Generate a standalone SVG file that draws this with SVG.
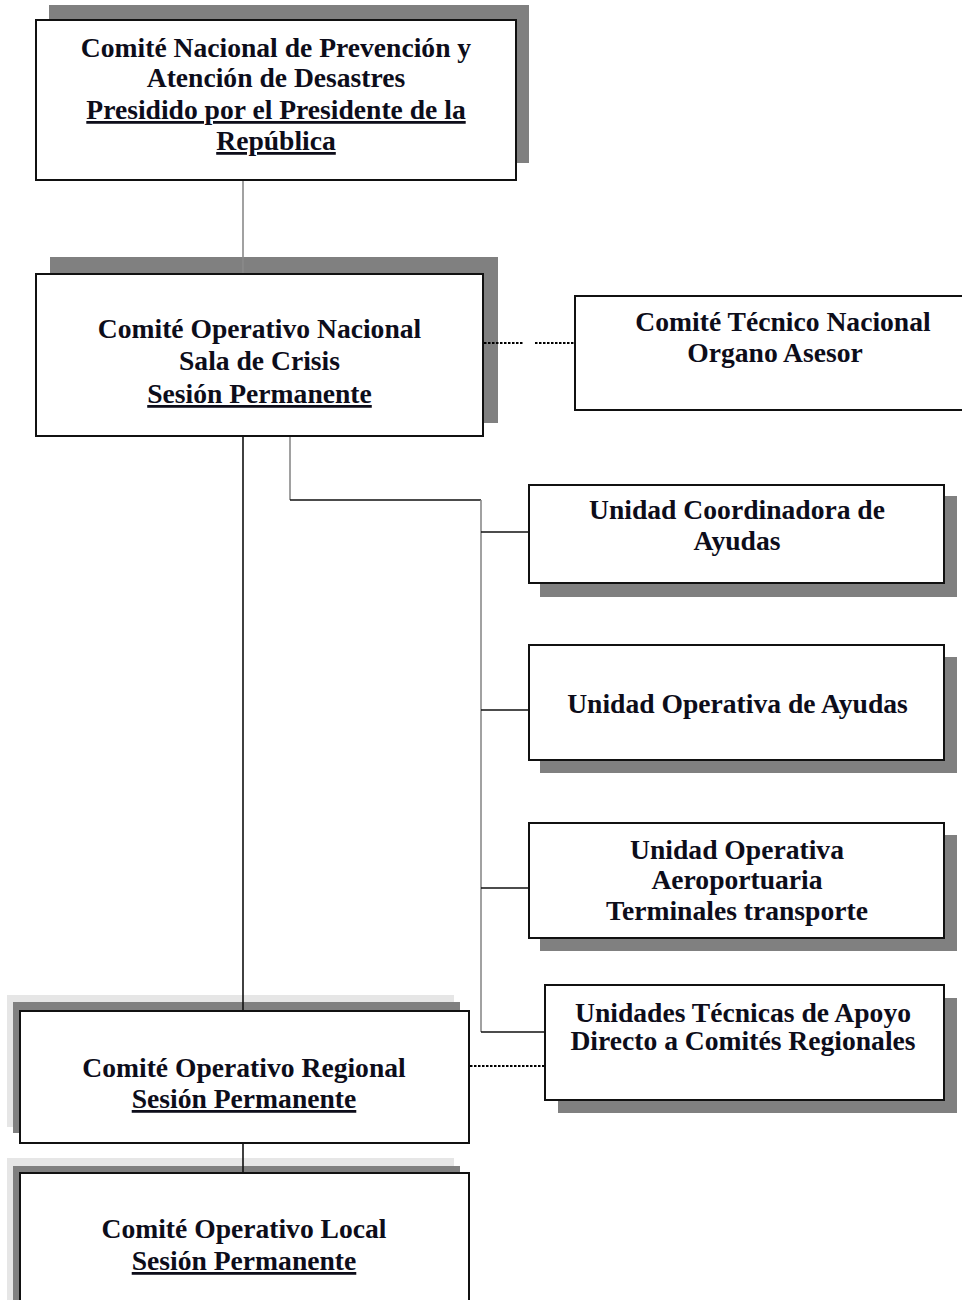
<svg xmlns="http://www.w3.org/2000/svg" width="962" height="1300" viewBox="0 0 962 1300">
<style>
.box{fill:#fff;stroke:#111;stroke-width:2}
.sh{fill:#808080}
.lsh{fill:#e6e6e6}
.t{font-family:"Liberation Serif","Times New Roman",serif;font-weight:bold;font-size:27.6px;fill:#0d0d1a;text-anchor:middle}
.u{text-decoration:underline}
.cn{fill:none;stroke:#111;stroke-width:1.6}
.cg{fill:none;stroke:#8a8a8a;stroke-width:1.6}
.dot{fill:none;stroke:#000;stroke-width:1.8;stroke-dasharray:2.5 1.5}
</style>
<rect width="962" height="1300" fill="#fff"/>
<g id="n1">
<rect class="sh" x="49" y="5" width="480" height="158"/>
<rect class="box" x="36" y="20" width="480" height="160"/>
<text class="t" x="276" y="57">Comité Nacional de Prevención y</text>
<text class="t" x="276" y="87">Atención de Desastres</text>
<text class="t u" x="276" y="119">Presidido por el Presidente de la</text>
<text class="t u" x="276" y="150">República</text>
</g>
<g id="n2">
<rect class="sh" x="50" y="257" width="448" height="166"/>
<rect class="box" x="36" y="274" width="447" height="162"/>
<text class="t" x="259.5" y="338">Comité Operativo Nacional</text>
<text class="t" x="259.5" y="370">Sala de Crisis</text>
<text class="t u" x="259.5" y="403">Sesión Permanente</text>
</g>
<g id="n3">
<rect class="box" x="575" y="296" width="400" height="114"/>
<text class="t" x="783" y="331">Comité Técnico Nacional</text>
<text class="t" x="775" y="362">Organo Asesor</text>
</g>
<g id="n4">
<rect class="sh" x="540" y="496" width="417" height="101"/>
<rect class="box" x="529" y="485" width="415" height="98"/>
<text class="t" x="737" y="519">Unidad Coordinadora de</text>
<text class="t" x="737" y="550">Ayudas</text>
</g>
<g id="n5">
<rect class="sh" x="540" y="657" width="417" height="116"/>
<rect class="box" x="529" y="645" width="415" height="115"/>
<text class="t" x="737.5" y="713">Unidad Operativa de Ayudas</text>
</g>
<g id="n6">
<rect class="sh" x="540" y="835" width="417" height="116"/>
<rect class="box" x="529" y="823" width="415" height="115"/>
<text class="t" x="737" y="859">Unidad Operativa</text>
<text class="t" x="737" y="889">Aeroportuaria</text>
<text class="t" x="737" y="920">Terminales transporte</text>
</g>
<g id="n7">
<rect class="sh" x="558" y="998" width="399" height="115"/>
<rect class="box" x="545" y="985" width="399" height="115"/>
<text class="t" x="743" y="1022">Unidades Técnicas de Apoyo</text>
<text class="t" x="743" y="1050">Directo a Comités Regionales</text>
</g>
<g id="n8">
<rect class="lsh" x="7" y="995" width="447" height="132"/>
<rect class="sh" x="13" y="1002" width="447" height="131"/>
<rect class="box" x="20" y="1011" width="449" height="132"/>
<text class="t" x="244" y="1077">Comité Operativo Regional</text>
<text class="t u" x="244" y="1108">Sesión Permanente</text>
</g>
<g id="n9">
<rect class="lsh" x="7" y="1158" width="447" height="160"/>
<rect class="sh" x="13" y="1166" width="447" height="160"/>
<rect class="box" x="20" y="1173" width="449" height="140"/>
<text class="t" x="244" y="1238">Comité Operativo Local</text>
<text class="t u" x="244" y="1270">Sesión Permanente</text>
</g>
<g id="connectors">
<line class="cg" x1="243" y1="181" x2="243" y2="273"/>
<line class="cn" x1="243" y1="437" x2="243" y2="1010"/>
<polyline class="cg" points="290,437 290,500"/>
<polyline class="cn" points="290,500 481,500"/>
<line class="cg" x1="481" y1="500" x2="481" y2="1032"/>
<line class="cn" x1="481" y1="532" x2="528" y2="532"/>
<line class="cn" x1="481" y1="710" x2="528" y2="710"/>
<line class="cn" x1="481" y1="888" x2="528" y2="888"/>
<line class="cn" x1="481" y1="1032" x2="544" y2="1032"/>
<line class="cn" x1="243" y1="1144" x2="243" y2="1172"/>
<line class="dot" x1="484" y1="343" x2="523" y2="343"/>
<line class="dot" x1="535" y1="343" x2="574" y2="343"/>
<line class="dot" x1="470" y1="1066" x2="544" y2="1066"/>
</g>
</svg>
